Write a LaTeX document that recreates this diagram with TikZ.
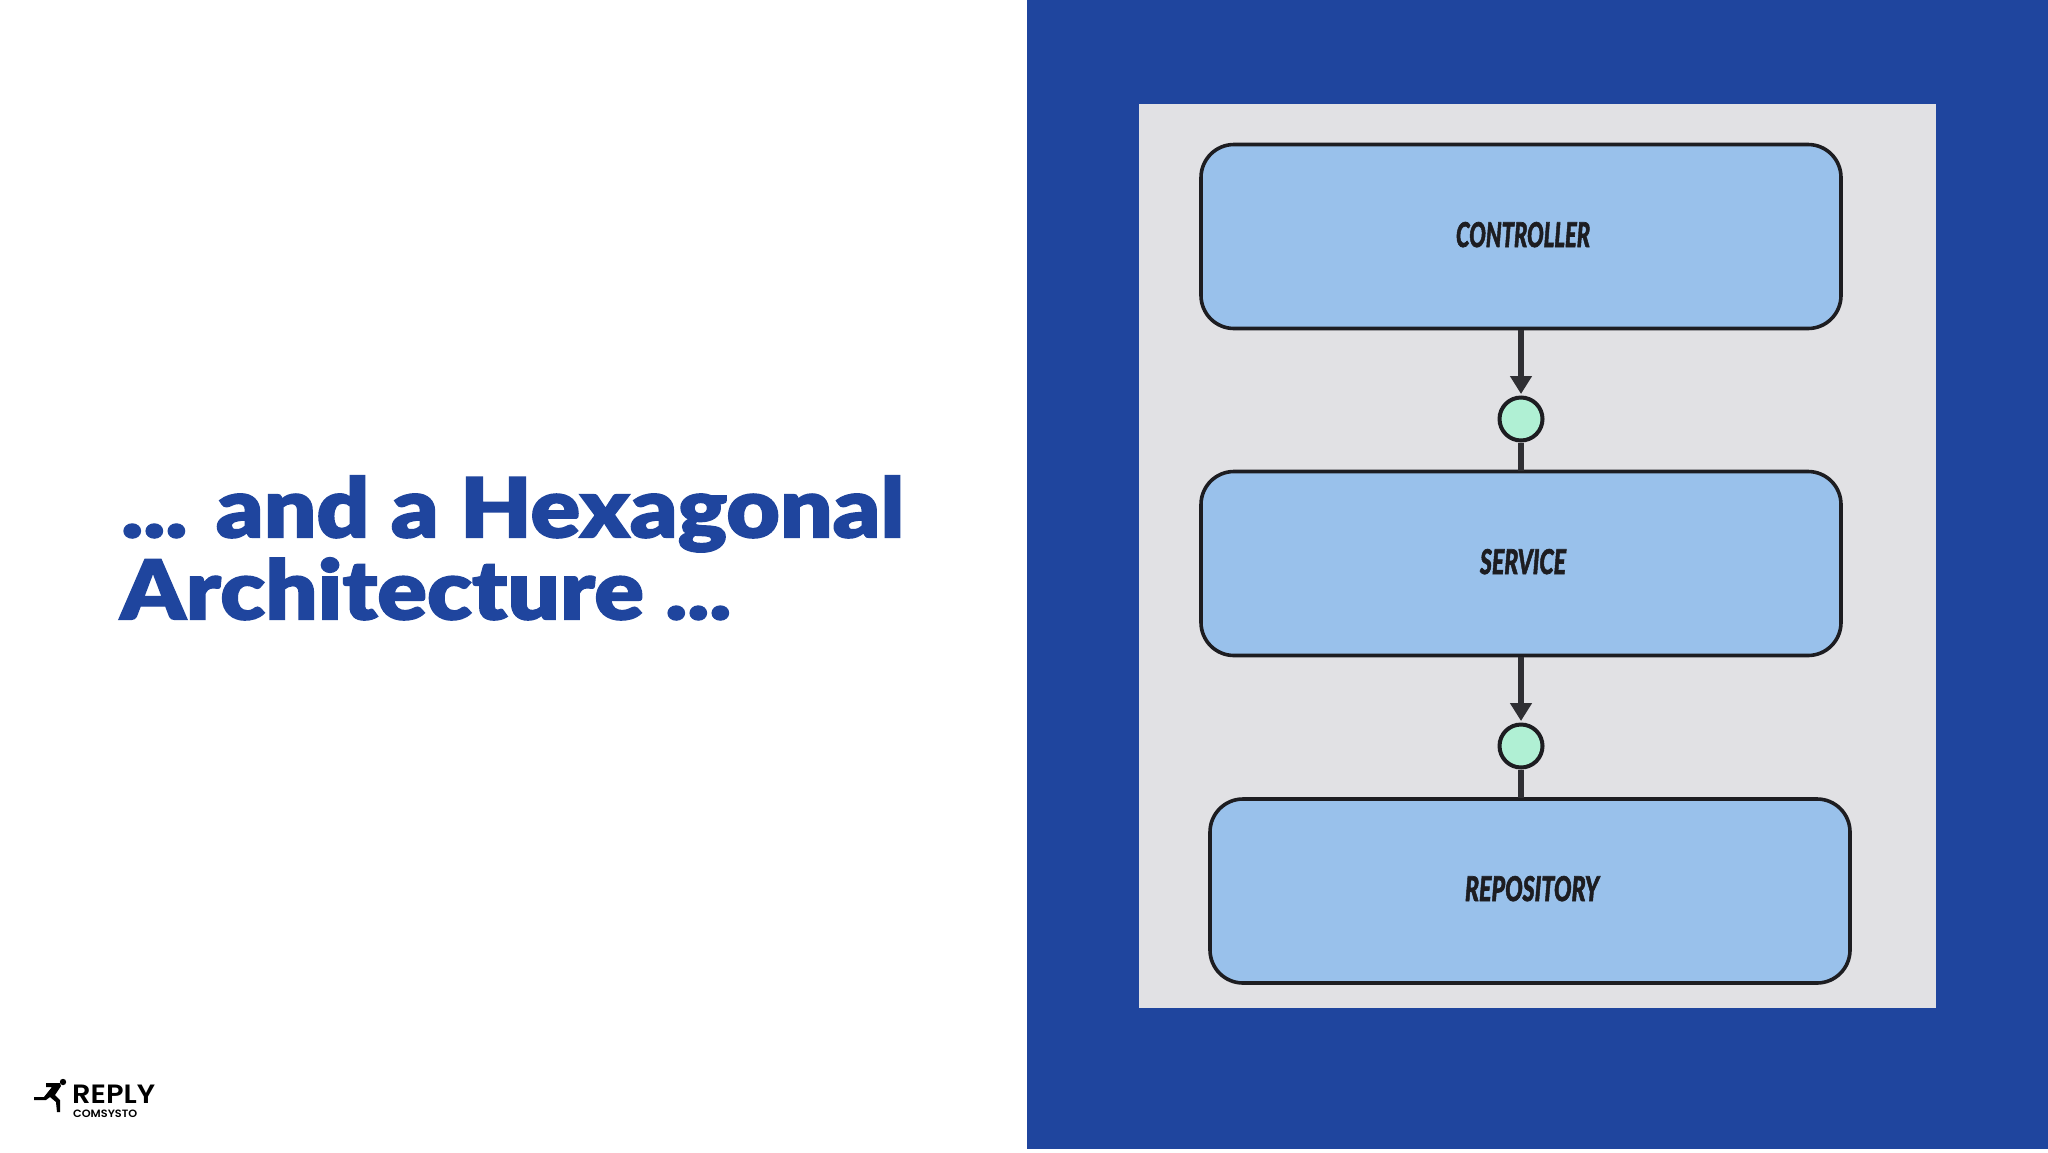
\documentclass[tikz,border=0pt]{standalone}
\usepackage{fontspec}
\usetikzlibrary{arrows.meta}
\setmainfont{Poppins}
\newfontfamily\titlefont{Lato Black}[FakeBold=1.6]
\newfontfamily\labelfont{Lato Black Italic}[FakeBold=2]
\newfontfamily\logofont{Poppins}[UprightFont=* SemiBold,BoldFont=* Bold]
\definecolor{titleblue}{HTML}{1F459E}
\definecolor{panelgray}{HTML}{E1E1E4}
\definecolor{boxblue}{HTML}{99C1EB}
\definecolor{mint}{HTML}{B0F0D4}
\definecolor{ink}{HTML}{1D1D21}
\definecolor{conn}{HTML}{2F2F33}
\tikzset{
  x=1pt,y=-1pt,
  layerbox/.style={draw=ink,line width=3.6pt,fill=boxblue,rounded corners=33pt,minimum width=640pt,minimum height=184pt,inner sep=0pt},
  portdot/.style={circle,draw=ink,line width=4pt,fill=mint,minimum size=43pt,inner sep=0pt},
  boxlabel/.style={font=\labelfont\fontsize{30}{30}\selectfont,text=ink,inner sep=0pt,anchor=base},
  titleline/.style={font=\titlefont\fontsize{84}{84}\selectfont,text=titleblue,inner sep=0pt,anchor=base west},
  req/.style={draw=conn,line width=5.5pt,-{Triangle[width=21pt,length=18pt]},shorten >=1.5pt},
  lnk/.style={draw=conn,line width=5.5pt},
}
\begin{document}
\begin{tikzpicture}
\useasboundingbox (0,0) rectangle (2048,1152);
\fill[white] (0,0) rectangle (2048,1152);
\fill[titleblue] (1027,0) rectangle (2048,1149);
\fill[panelgray] (1139,104) rectangle (1936,1008);
\node[layerbox] (ctrl) at (1521,236.5) {};
\node[layerbox] (svc) at (1521,563.5) {};
\node[layerbox] (repo) at (1530,891) {};
\node[portdot] (p1) at (1521,419) {};
\node[portdot] (p2) at (1521,746) {};
\coordinate (svctop) at (1521,471);
\coordinate (repotop) at (1521,798);
\draw[req] (ctrl.south) -- (p1.north);
\draw[lnk] (p1.south) -- (svctop);
\draw[req] (svc.south) -- (p2.north);
\draw[lnk] (p2.south) -- (repotop);
\node[boxlabel] (l1) at (1523,247) {\resizebox{134pt}{25pt}{CONTROLLER}};
\node[boxlabel] (l2) at (1523,574) {\resizebox{86pt}{25pt}{SERVICE}};
\node[boxlabel] (l3) at (1532,901) {\resizebox{134pt}{25pt}{REPOSITORY}};
\node[titleline] (t1) at (121,537.5) {\resizebox{783pt}{62pt}{... and a Hexagonal}};
\node[titleline] (t2) at (120,619.5) {\resizebox{611pt}{62pt}{Architecture ...}};
% logo
\node[font=\logofont\fontsize{26}{26}\selectfont,inner sep=0pt,anchor=base west] (reply) at (72,1103) {\resizebox{83pt}{18.5pt}{REPLY}};
\node[font=\logofont\fontsize{10}{10}\selectfont,inner sep=0pt,anchor=base west] (coms) at (73,1117) {\resizebox{64pt}{7.5pt}{COMSYSTO}};
\fill[black] (63,1082) circle (3.2pt);
\fill[black,line join=round] (46,1083) -- (60,1083) -- (61,1086) -- (55,1095) -- (60,1100) -- (60,1112) -- (57,1112) -- (56,1102) -- (50,1097) -- (46,1100) -- (34,1100) -- (34,1097) -- (44,1097) -- (52,1087) -- (46,1087) -- cycle;
\end{tikzpicture}
\end{document}
